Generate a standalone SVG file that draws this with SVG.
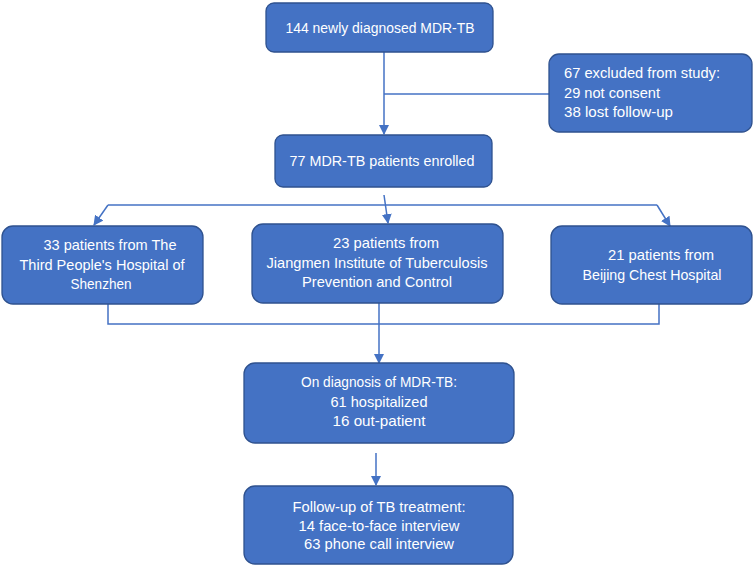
<svg xmlns="http://www.w3.org/2000/svg" width="754" height="565" viewBox="0 0 754 565">
<defs>
<style>
.box{fill:#4472C4;stroke:#2F528F;stroke-width:1.3}
.t{font-family:"Liberation Sans",Arial,sans-serif;fill:#fff;font-size:15px}
.tc{text-anchor:middle}
.ln{stroke:#4472C4;stroke-width:1.5;fill:none}
</style>
<marker id="ah" viewBox="0 0 10 10" refX="9" refY="5" markerWidth="10" markerHeight="10" markerUnits="userSpaceOnUse" orient="auto">
<path d="M0,0 L10,5 L0,10 z" fill="#4472C4"/>
</marker>
</defs>
<rect width="754" height="565" fill="#fff"/>
<g id="connectors">
<line class="ln" x1="384" y1="52" x2="384" y2="134" marker-end="url(#ah)"/>
<line class="ln" x1="384" y1="94" x2="549" y2="94"/>
<line class="ln" x1="108" y1="205" x2="657" y2="205"/>
<line class="ln" x1="108" y1="205" x2="94" y2="225" marker-end="url(#ah)"/>
<line class="ln" x1="657" y1="205" x2="670" y2="226" marker-end="url(#ah)"/>
<line class="ln" x1="384" y1="195" x2="388" y2="223" marker-end="url(#ah)"/>
<polyline class="ln" points="108,304 108,324 659,324 659,304"/>
<line class="ln" x1="379" y1="303" x2="379" y2="363" marker-end="url(#ah)"/>
<line class="ln" x1="376" y1="453" x2="376" y2="485" marker-end="url(#ah)"/>
</g>
<g id="n-newly">
<rect class="box" x="266" y="3" width="227" height="49" rx="8"/>
<text class="t tc" x="380" y="33" textLength="189" lengthAdjust="spacingAndGlyphs">144 newly diagnosed MDR-TB</text>
</g>
<g id="n-excluded">
<rect class="box" x="549" y="54" width="203" height="78" rx="10"/>
<text class="t" x="564" y="78" textLength="156" lengthAdjust="spacingAndGlyphs">67 excluded from study:</text>
<text class="t" x="564" y="98" textLength="96" lengthAdjust="spacingAndGlyphs">29 not consent</text>
<text class="t" x="564" y="117" textLength="109" lengthAdjust="spacingAndGlyphs">38 lost follow-up</text>
</g>
<g id="n-enrolled">
<rect class="box" x="275" y="135" width="217" height="52" rx="8"/>
<text class="t tc" x="382" y="166" textLength="185" lengthAdjust="spacingAndGlyphs">77 MDR-TB patients enrolled</text>
</g>
<g id="n-shenzhen">
<rect class="box" x="2" y="226" width="201" height="78" rx="11"/>
<text class="t tc" x="110" y="250" textLength="133" lengthAdjust="spacingAndGlyphs">33 patients from The</text>
<text class="t tc" x="102" y="270" textLength="165" lengthAdjust="spacingAndGlyphs">Third People's Hospital of</text>
<text class="t tc" x="101" y="289" textLength="61" lengthAdjust="spacingAndGlyphs">Shenzhen</text>
</g>
<g id="n-jiangmen">
<rect class="box" x="252" y="224" width="251" height="79" rx="11"/>
<text class="t tc" x="386" y="248" textLength="106" lengthAdjust="spacingAndGlyphs">23 patients from</text>
<text class="t tc" x="377" y="268" textLength="221" lengthAdjust="spacingAndGlyphs">Jiangmen Institute of Tuberculosis</text>
<text class="t tc" x="377" y="287" textLength="150" lengthAdjust="spacingAndGlyphs">Prevention and Control</text>
</g>
<g id="n-beijing">
<rect class="box" x="551" y="226" width="201" height="78" rx="11"/>
<text class="t tc" x="661" y="260" textLength="106" lengthAdjust="spacingAndGlyphs">21 patients from</text>
<text class="t tc" x="652" y="280" textLength="139" lengthAdjust="spacingAndGlyphs">Beijing Chest Hospital</text>
</g>
<g id="n-diagnosis">
<rect class="box" x="244" y="363" width="270" height="80" rx="11"/>
<text class="t tc" x="379" y="387" textLength="156" lengthAdjust="spacingAndGlyphs">On diagnosis of MDR-TB:</text>
<text class="t tc" x="379" y="407" textLength="97" lengthAdjust="spacingAndGlyphs">61 hospitalized</text>
<text class="t tc" x="379" y="426" textLength="93" lengthAdjust="spacingAndGlyphs">16 out-patient</text>
</g>
<g id="n-followup">
<rect class="box" x="244" y="486" width="269" height="78" rx="11"/>
<text class="t tc" x="379" y="512" textLength="173" lengthAdjust="spacingAndGlyphs">Follow-up of TB treatment:</text>
<text class="t tc" x="379" y="531" textLength="161" lengthAdjust="spacingAndGlyphs">14 face-to-face interview</text>
<text class="t tc" x="379" y="549" textLength="150" lengthAdjust="spacingAndGlyphs">63 phone call interview</text>
</g>
</svg>
